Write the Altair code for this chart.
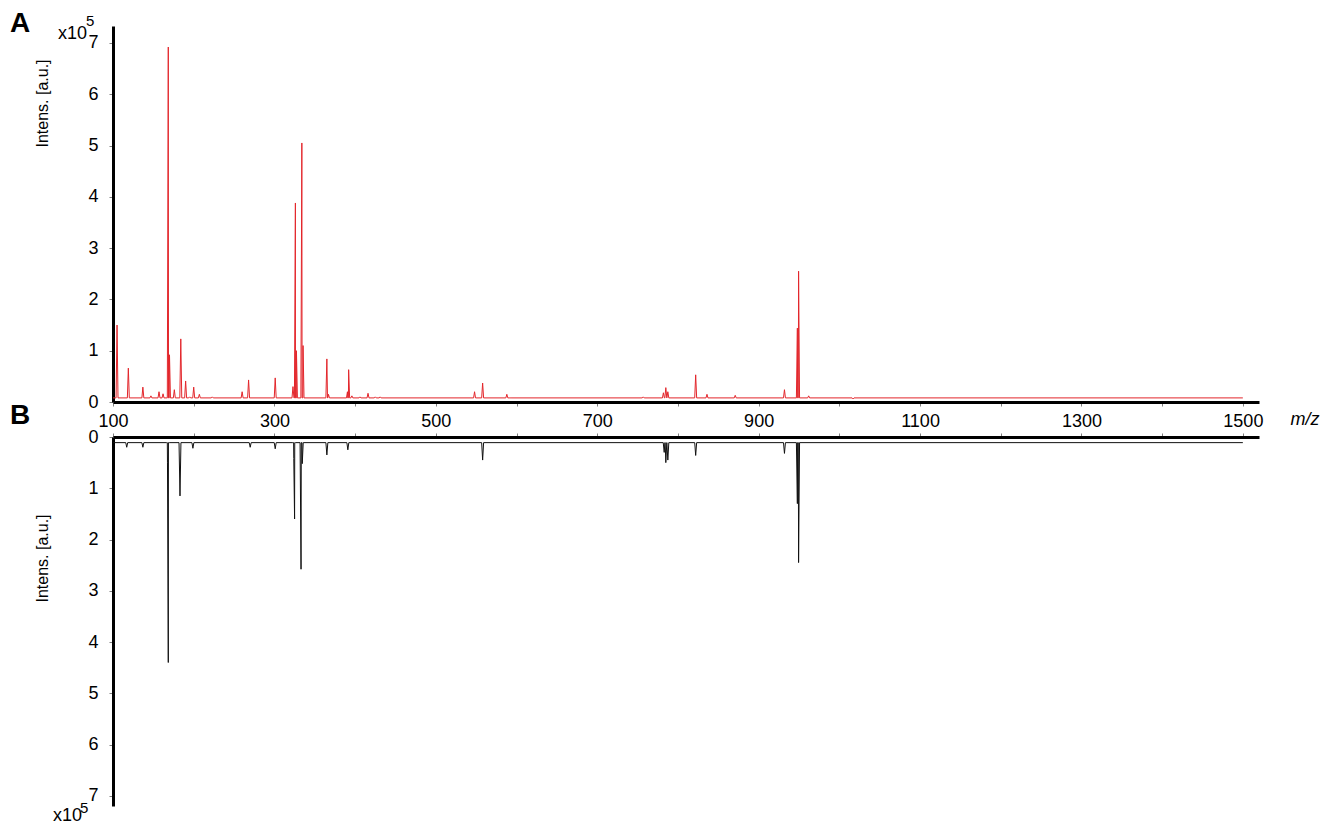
import altair as alt
import pandas as pd

# ---------------- data (intensities in units of 10^5 a.u.) ----------------
a_mz = [105, 119, 137, 147, 157, 162, 168.5, 170, 176, 184, 190, 195, 200, 207, 223,
        260, 268, 301, 323, 326, 327.3, 334, 335.5, 365, 367, 390.5, 392, 396, 406,
        416, 425, 431, 548, 558, 588, 592, 757, 782, 785, 787.5, 822, 836, 871, 932,
        948, 949.5, 962, 1017]
a_int = [1.50, 0.66, 0.29, 0.12, 0.20, 0.16, 6.92, 0.92, 0.24, 1.23, 0.41, 0.10, 0.29, 0.15, 0.10,
         0.20, 0.43, 0.47, 0.30, 3.88, 1.00, 5.05, 1.10, 0.84, 0.15, 0.20, 0.63, 0.12, 0.10,
         0.17, 0.10, 0.10, 0.20, 0.37, 0.15, 0.08, 0.10, 0.18, 0.28, 0.20, 0.53, 0.15, 0.13, 0.24,
         1.44, 2.55, 0.12, 0.06]
a_base = 0.08

b_mz = [117, 137, 167.5, 168.5, 183, 199, 270, 301, 324, 325, 333, 334.5, 365, 391,
        558, 783, 785, 787.5, 822, 932, 948, 949.5]
b_int = [0.20, 0.20, 0.49, 4.40, 1.15, 0.22, 0.20, 0.23, 0.42, 1.60, 2.58, 0.52, 0.35, 0.25,
         0.45, 0.30, 0.50, 0.45, 0.36, 0.32, 1.30, 2.45]
b_base = 0.11

mz_start, mz_end = 100, 1500
x_ticks = list(range(100, 1501, 100))
y_ticks = [0, 1, 2, 3, 4, 5, 6, 7]
panel_labels = ["A", "B"]
axis_title = "Intens. [a.u.]"
unit_text = "x10"
unit_exp = "5"
x_title = "m/z"

FONT = "Liberation Sans"
RED = "#e3262b"
HW = 1.2  # half width of each peak in m/z


def spectrum(mz, inten, base):
    rows = [(mz_start, base)]
    for m, h in zip(mz, inten):
        rows += [(m - HW, base), (m, h), (m + HW, base)]
    rows.append((mz_end, base))
    df = pd.DataFrame(rows, columns=["mz", "I"]).sort_values("mz", kind="stable")
    df["order"] = range(len(df))
    return df


dfA = spectrum(a_mz, a_int, a_base)
dfB = spectrum(b_mz, b_int, b_base)

W = 1146
H_TOP = 376
H_BOT = 369
xscale = alt.Scale(domain=[100, 1520], nice=False, zero=False)

common_axis = dict(tickSize=4, tickColor="#808080", tickWidth=1,
                   domainColor="black", domainWidth=3, grid=False,
                   labelFont=FONT, labelFontSize=18, labelColor="black")

xaxis_top = alt.Axis(values=x_ticks, format="d", title=None,
                     labelExpr="datum.value % 200 == 100 ? datum.label : ''",
                     labelPadding=6, labelFlush=False, labelOverlap=False, **common_axis)
xaxis_bot = alt.Axis(values=x_ticks, orient="top", labels=False, title=None, **common_axis)


def yaxis(title_y):
    return alt.Axis(values=y_ticks, format="d", title=axis_title, titleFont=FONT,
                    titleFontSize=16, titleFontWeight="normal", titleColor="black",
                    titleX=-71, titleY=title_y, titleAngle=270, titleAlign="center",
                    titleBaseline="middle", labelPadding=11, **common_axis)


def txt(s, x, y, size, weight="normal", style="normal", align="left"):
    return alt.Chart(pd.DataFrame({"t": [s]})).mark_text(
        font=FONT, fontSize=size, fontWeight=weight, fontStyle=style,
        align=align, baseline="middle", color="black"
    ).encode(text="t:N", x=alt.value(x), y=alt.value(y))


def panel_letter(s, y):
    return alt.Chart(pd.DataFrame({"t": [s]})).mark_text(
        font=FONT, fontSize=28, fontWeight="bold", align="left", baseline="alphabetic", color="black"
    ).encode(text="t:N", x=alt.value(-103), y=alt.value(y))


top_line = alt.Chart(dfA).mark_line(color=RED, strokeWidth=1).encode(
    x=alt.X("mz:Q", scale=xscale, axis=xaxis_top),
    y=alt.Y("I:Q", scale=alt.Scale(domain=[0, 7.33], nice=False), axis=yaxis(77)),
    order="order:Q",
)
top = alt.layer(
    top_line,
    panel_letter(panel_labels[0], 6),
    txt(unit_text, -26, 8, 18, align="right"),
    txt(unit_exp, -27, -5, 15),
    txt(x_title, 1192, 394, 18, style="italic", align="center"),
).properties(width=W, height=H_TOP)

bot_line = alt.Chart(dfB).mark_line(color="#111111", strokeWidth=1).encode(
    x=alt.X("mz:Q", scale=xscale, axis=xaxis_bot),
    y=alt.Y("I:Q", scale=alt.Scale(domain=[0, 7.2], nice=False, reverse=True), axis=yaxis(121)),
    order="order:Q",
)
bot = alt.layer(
    bot_line,
    panel_letter(panel_labels[1], -13),
    txt(unit_text, -31, 379, 18, align="right"),
    txt(unit_exp, -33, 371, 15),
).properties(width=W, height=H_BOT)

chart = alt.vconcat(top, bot, spacing=35, bounds="flush").properties(
    padding={"left": 2, "top": 2, "right": 0, "bottom": 0}
).configure_view(stroke=None)

chart.save("out.html", embed_options={"renderer": "svg", "actions": False})
